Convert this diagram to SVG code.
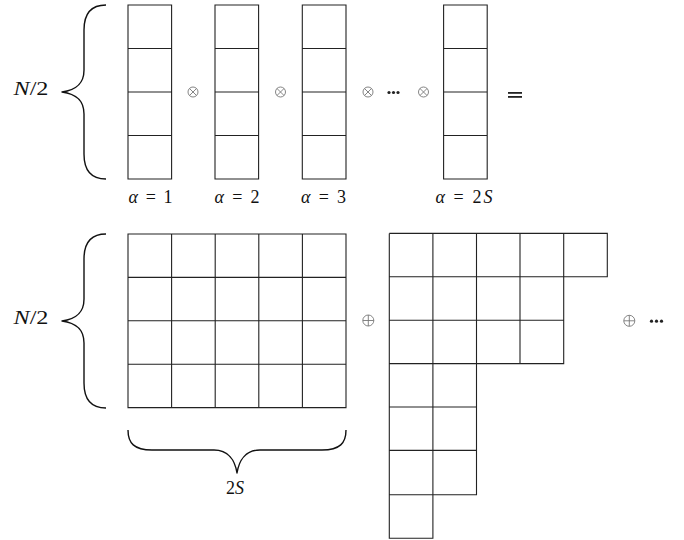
<svg xmlns="http://www.w3.org/2000/svg" width="684" height="540" viewBox="0 0 684 540">
<style>
.g{fill:none;stroke:#222;stroke-width:1.1}
.br{fill:none;stroke:#111;stroke-width:1.4;stroke-linejoin:round}
.op{fill:none;stroke:#777;stroke-width:0.9}
.t{font-family:'Liberation Serif','DejaVu Serif',serif;font-size:18px;fill:#111}
.i{font-style:italic}
.dot{fill:#222}
</style>
<rect width="684" height="540" fill="#fff"/>
<g id="brace-top">
<path class="br" d="M106,5 C92,5 84,12 84,30 L84,70 C84,84 76,90 62,92 C76,94 84,100 84,114 L84,154 C84,172 92,179 106,179"/>
<text class="t" font-family="Liberation Serif, serif" x="31" y="95" text-anchor="middle" textLength="35" lengthAdjust="spacingAndGlyphs"><tspan class="i">N</tspan>/2</text>
</g>
<g id="col1">
<path class="g" d="M128,5 H171.6 V179 H128 Z M128,48.5 H171.6 M128,92 H171.6 M128,135.5 H171.6"/>
<text class="t" font-family="Liberation Serif, serif" x="150.5" y="203" text-anchor="middle" textLength="44" lengthAdjust="spacing"><tspan class="i">α</tspan> = 1</text>
</g>
<g id="col2">
<path class="g" d="M215,5 H258.6 V179 H215 Z M215,48.5 H258.6 M215,92 H258.6 M215,135.5 H258.6"/>
<text class="t" font-family="Liberation Serif, serif" x="237" y="203" text-anchor="middle" textLength="45" lengthAdjust="spacing"><tspan class="i">α</tspan> = 2</text>
</g>
<g id="col3">
<path class="g" d="M302.3,5 H346 V179 H302.3 Z M302.3,48.5 H346 M302.3,92 H346 M302.3,135.5 H346"/>
<text class="t" font-family="Liberation Serif, serif" x="323.5" y="203" text-anchor="middle" textLength="45" lengthAdjust="spacing"><tspan class="i">α</tspan> = 3</text>
</g>
<g id="col4">
<path class="g" d="M443.6,5 H487.2 V179 H443.6 Z M443.6,48.5 H487.2 M443.6,92 H487.2 M443.6,135.5 H487.2"/>
<text class="t" font-family="Liberation Serif, serif" x="464" y="203" text-anchor="middle" textLength="57" lengthAdjust="spacing"><tspan class="i">α</tspan> = 2<tspan class="i">S</tspan></text>
</g>
<g id="ops-top">
<g class="op">
<circle cx="193" cy="92" r="5"/><path d="M189.5,88.5 L196.5,95.5 M196.5,88.5 L189.5,95.5"/>
<circle cx="280.5" cy="92" r="5"/><path d="M277,88.5 L284,95.5 M284,88.5 L277,95.5"/>
<circle cx="368" cy="92" r="5"/><path d="M364.5,88.5 L371.5,95.5 M371.5,88.5 L364.5,95.5"/>
<circle cx="423.5" cy="92" r="5"/><path d="M420,88.5 L427,95.5 M427,88.5 L420,95.5"/>
</g>
<circle class="dot" cx="389" cy="92.5" r="1.6"/><circle class="dot" cx="393.5" cy="92.5" r="1.6"/><circle class="dot" cx="398" cy="92.5" r="1.6"/>
<rect class="dot" x="508" y="92" width="14" height="1.8"/><rect class="dot" x="508" y="96" width="14" height="1.8"/>
</g>
<g id="brace-bottom">
<path class="br" d="M106,234 C92,234 84,241 84,259 L84,299 C84,313 76,319 62,321 C76,323 84,329 84,343 L84,383 C84,401 92,408 106,408"/>
<text class="t" font-family="Liberation Serif, serif" x="31" y="324" text-anchor="middle" textLength="35" lengthAdjust="spacingAndGlyphs"><tspan class="i">N</tspan>/2</text>
</g>
<g id="grid">
<path class="g" d="M128,234 H346 V407.6 H128 Z M128,277.4 H346 M128,320.8 H346 M128,364.2 H346 M171.6,234 V407.6 M215.2,234 V407.6 M258.8,234 V407.6 M302.4,234 V407.6"/>
</g>
<g id="brace-2S">
<path class="br" d="M128,430 C128,443 134,450 152,450 L214,450 C228,450 235,460 237,473 C239,460 246,450 260,450 L322,450 C340,450 346,443 346,430"/>
<text class="t" font-family="Liberation Serif, serif" x="235" y="494" text-anchor="middle">2<tspan class="i">S</tspan></text>
</g>
<g id="young">
<path class="g" d="M389.3,233.4 H607.3 V276.8 H389.3 M389.3,320.2 H563.7 M389.3,363.6 H563.7 V233.4 M520,233.4 V363.6 M389.3,233.4 V538.2 H432.9 V233.4 M476.5,233.4 V494.8 H389.3 M389.3,407 H476.5 M389.3,450.4 H476.5"/>
</g>
<g id="ops-bottom">
<g class="op">
<circle cx="368.3" cy="320.5" r="5.5"/><path d="M362.8,320.5 H373.8 M368.3,315 V326"/>
<circle cx="629.3" cy="320.8" r="5.5"/><path d="M623.8,320.8 H634.8 M629.3,315.3 V326.3"/>
</g>
<circle class="dot" cx="651.5" cy="321.2" r="1.6"/><circle class="dot" cx="656.5" cy="321.2" r="1.6"/><circle class="dot" cx="661.5" cy="321.2" r="1.6"/>
</g>
</svg>
